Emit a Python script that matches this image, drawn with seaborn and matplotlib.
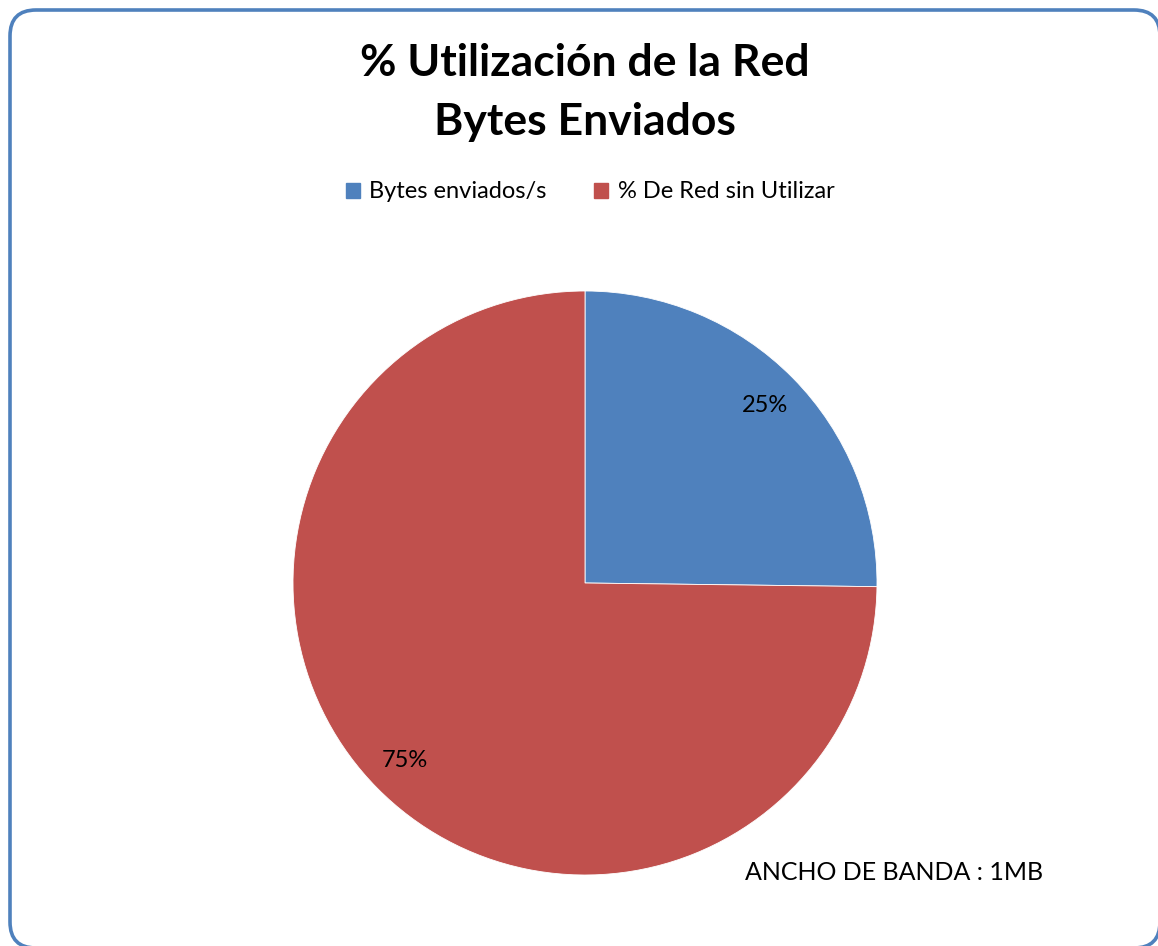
import matplotlib
matplotlib.use("Agg")
import matplotlib.pyplot as plt
from matplotlib.patches import FancyBboxPatch, Patch
import seaborn as sns

categories = ["Bytes enviados/s", "% De Red sin Utilizar"]
values = [25.2, 74.8]
title_lines = ["% Utilización de la Red", "Bytes Enviados"]
note = "ANCHO DE BANDA : 1MB"

sns.set_theme(style="white")
plt.rcParams['font.family'] = ['Lato', 'DejaVu Sans']
colors = sns.color_palette(["#4F81BD", "#C0504D"])

W, H = 1158, 946
fig = plt.figure(figsize=(W / 100, H / 100), dpi=100)
fig.patch.set_facecolor("white")

# background axes in pixel units for the rounded border (filled white so Agg
# does not clip-distort the curved outline that runs off the canvas)
bg = fig.add_axes([0, 0, 1, 1], zorder=0)
bg.set_xlim(0, W)
bg.set_ylim(0, H)
bg.axis("off")
left, right, top, bottom = 10, 1160, 10, 948
bg.add_patch(FancyBboxPatch((left, H - bottom), right - left, bottom - top,
                            boxstyle="round,pad=0,rounding_size=26",
                            facecolor="white", edgecolor="#4F81BD", linewidth=2.6))

cx, cy, r = 585, 583, 292
ax = fig.add_axes([(cx - r) / W, (H - cy - r) / H, 2 * r / W, 2 * r / H], zorder=1)
wedges, texts, autotexts = ax.pie(values, colors=colors, startangle=90, counterclock=False,
                                  autopct="%1.0f%%", pctdistance=0.865,
                                  wedgeprops=dict(edgecolor="white", linewidth=0.6),
                                  textprops=dict(fontsize=17, color="black"))
ax.set_xlim(-1, 1)
ax.set_ylim(-1, 1)
ax.set_aspect("equal")
ax.axis("off")

fig.text(585 / W, 1 - 63 / H, title_lines[0], ha="center", va="center",
         fontsize=32, fontweight="bold", color="black")
fig.text(585 / W, 1 - 122 / H, title_lines[1], ha="center", va="center",
         fontsize=32, fontweight="bold", color="black")

handles = [Patch(facecolor=c, edgecolor=c) for c in colors]
leg = fig.legend(handles, categories, loc="center", bbox_to_anchor=(590 / W, 1 - 192 / H),
                 ncol=2, frameon=False, fontsize=17, handlelength=0.6, handleheight=0.6,
                 handletextpad=0.4, columnspacing=2.0)
for t in leg.get_texts():
    t.set_color("black")

fig.text(745 / W, 1 - 872 / H, note, ha="left", va="center", fontsize=18, color="black")

fig.savefig("out.png", dpi=100)
